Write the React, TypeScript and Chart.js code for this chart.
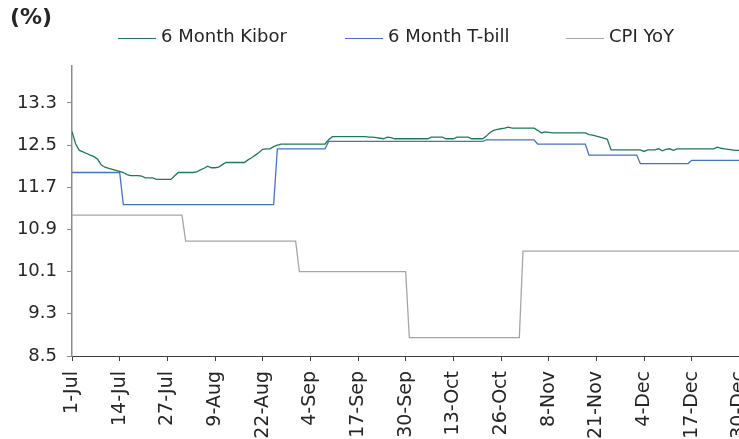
import React, { useEffect, useRef } from "react";
import { Chart, registerables } from "chart.js";

Chart.register(...registerables);

// ---- data ----
const tickLabels = [
  "1-Jul", "14-Jul", "27-Jul", "9-Aug", "22-Aug", "4-Sep", "17-Sep", "30-Sep",
  "13-Oct", "26-Oct", "8-Nov", "21-Nov", "4-Dec", "17-Dec", "30-Dec",
];
const tickEvery = 13; // days between labelled ticks
const yTicks = [8.5, 9.3, 10.1, 10.9, 11.7, 12.5, 13.3];
const yMin = 8.5;
const yMax = 14.0;

const seriesNames = ["6 Month Kibor", "6 Month T-bill", "CPI YoY"];
const seriesColors = ["#1E7B55", "#4472C4", "#A6A6A6"];

// daily values, 1-Jul .. 31-Dec
const kibor = [
  12.76, 12.52, 12.40, 12.37, 12.34, 12.31, 12.28, 12.23, 12.12, 12.08,
  12.06, 12.04, 12.02, 12.00, 11.98, 11.94, 11.92, 11.92, 11.92, 11.91,
  11.88, 11.88, 11.88, 11.85, 11.85, 11.85, 11.85, 11.85, 11.92, 11.98,
  11.98, 11.98, 11.98, 11.98, 11.99, 12.03, 12.06, 12.10, 12.07, 12.07,
  12.08, 12.13, 12.17, 12.17, 12.17, 12.17, 12.17, 12.17, 12.22, 12.26,
  12.31, 12.36, 12.42, 12.43, 12.43, 12.47, 12.50, 12.52, 12.52, 12.52,
  12.52, 12.52, 12.52, 12.52, 12.52, 12.52, 12.52, 12.52, 12.52, 12.52,
  12.60, 12.66, 12.66, 12.66, 12.66, 12.66, 12.66, 12.66, 12.66, 12.66,
  12.66, 12.65, 12.65, 12.64, 12.63, 12.62, 12.65, 12.64, 12.62, 12.62,
  12.62, 12.62, 12.62, 12.62, 12.62, 12.62, 12.62, 12.62, 12.65, 12.65,
  12.65, 12.65, 12.62, 12.62, 12.62, 12.65, 12.65, 12.65, 12.65, 12.62,
  12.62, 12.62, 12.62, 12.67, 12.74, 12.78, 12.80, 12.81, 12.82, 12.84,
  12.82, 12.82, 12.82, 12.82, 12.82, 12.82, 12.82, 12.78, 12.73, 12.75,
  12.74, 12.73, 12.73, 12.73, 12.73, 12.73, 12.73, 12.73, 12.73, 12.73,
  12.73, 12.70, 12.69, 12.67, 12.65, 12.63, 12.61, 12.41, 12.41, 12.41,
  12.41, 12.41, 12.41, 12.41, 12.41, 12.41, 12.38, 12.41, 12.41, 12.41,
  12.43, 12.39, 12.42, 12.43, 12.40, 12.43, 12.43, 12.43, 12.43, 12.43,
  12.43, 12.43, 12.43, 12.43, 12.43, 12.43, 12.46, 12.44, 12.43, 12.42,
  12.41, 12.40, 12.40, 12.40,
];

const tbill = [
  11.98, 11.98, 11.98, 11.98, 11.98, 11.98, 11.98, 11.98, 11.98, 11.98,
  11.98, 11.98, 11.98, 11.98, 11.37, 11.37, 11.37, 11.37, 11.37, 11.37,
  11.37, 11.37, 11.37, 11.37, 11.37, 11.37, 11.37, 11.37, 11.37, 11.37,
  11.37, 11.37, 11.37, 11.37, 11.37, 11.37, 11.37, 11.37, 11.37, 11.37,
  11.37, 11.37, 11.37, 11.37, 11.37, 11.37, 11.37, 11.37, 11.37, 11.37,
  11.37, 11.37, 11.37, 11.37, 11.37, 11.37, 12.43, 12.43, 12.43, 12.43,
  12.43, 12.43, 12.43, 12.43, 12.43, 12.43, 12.43, 12.43, 12.43, 12.43,
  12.57, 12.57, 12.57, 12.57, 12.57, 12.57, 12.57, 12.57, 12.57, 12.57,
  12.57, 12.57, 12.57, 12.57, 12.57, 12.57, 12.57, 12.57, 12.57, 12.57,
  12.57, 12.57, 12.57, 12.57, 12.57, 12.57, 12.57, 12.57, 12.57, 12.57,
  12.57, 12.57, 12.57, 12.57, 12.57, 12.57, 12.57, 12.57, 12.57, 12.57,
  12.57, 12.57, 12.57, 12.60, 12.60, 12.60, 12.60, 12.60, 12.60, 12.60,
  12.60, 12.60, 12.60, 12.60, 12.60, 12.60, 12.60, 12.52, 12.52, 12.52,
  12.52, 12.52, 12.52, 12.52, 12.52, 12.52, 12.52, 12.52, 12.52, 12.52,
  12.52, 12.31, 12.31, 12.31, 12.31, 12.31, 12.31, 12.31, 12.31, 12.31,
  12.31, 12.31, 12.31, 12.31, 12.31, 12.15, 12.15, 12.15, 12.15, 12.15,
  12.15, 12.15, 12.15, 12.15, 12.15, 12.15, 12.15, 12.15, 12.15, 12.21,
  12.21, 12.21, 12.21, 12.21, 12.21, 12.21, 12.21, 12.21, 12.21, 12.21,
  12.21, 12.21, 12.21, 12.21,
];

const cpi = [
  11.17, 11.17, 11.17, 11.17, 11.17, 11.17, 11.17, 11.17, 11.17, 11.17,
  11.17, 11.17, 11.17, 11.17, 11.17, 11.17, 11.17, 11.17, 11.17, 11.17,
  11.17, 11.17, 11.17, 11.17, 11.17, 11.17, 11.17, 11.17, 11.17, 11.17,
  11.17, 10.68, 10.68, 10.68, 10.68, 10.68, 10.68, 10.68, 10.68, 10.68,
  10.68, 10.68, 10.68, 10.68, 10.68, 10.68, 10.68, 10.68, 10.68, 10.68,
  10.68, 10.68, 10.68, 10.68, 10.68, 10.68, 10.68, 10.68, 10.68, 10.68,
  10.68, 10.68, 10.10, 10.10, 10.10, 10.10, 10.10, 10.10, 10.10, 10.10,
  10.10, 10.10, 10.10, 10.10, 10.10, 10.10, 10.10, 10.10, 10.10, 10.10,
  10.10, 10.10, 10.10, 10.10, 10.10, 10.10, 10.10, 10.10, 10.10, 10.10,
  10.10, 10.10, 8.85, 8.85, 8.85, 8.85, 8.85, 8.85, 8.85, 8.85,
  8.85, 8.85, 8.85, 8.85, 8.85, 8.85, 8.85, 8.85, 8.85, 8.85,
  8.85, 8.85, 8.85, 8.85, 8.85, 8.85, 8.85, 8.85, 8.85, 8.85,
  8.85, 8.85, 8.85, 10.49, 10.49, 10.49, 10.49, 10.49, 10.49, 10.49,
  10.49, 10.49, 10.49, 10.49, 10.49, 10.49, 10.49, 10.49, 10.49, 10.49,
  10.49, 10.49, 10.49, 10.49, 10.49, 10.49, 10.49, 10.49, 10.49, 10.49,
  10.49, 10.49, 10.49, 10.49, 10.49, 10.49, 10.49, 10.49, 10.49, 10.49,
  10.49, 10.49, 10.49, 10.49, 10.49, 10.49, 10.49, 10.49, 10.49, 10.49,
  10.49, 10.49, 10.49, 10.49, 10.49, 10.49, 10.49, 10.49, 10.49, 10.49,
  10.49, 10.49, 10.49, 10.49,
];

const allSeries = [kibor, tbill, cpi];

const FONT = "'DejaVu Sans', Verdana, sans-serif";
const TEXT = "#262626";
const legendLeft = [118, 345, 566];

export default function App() {
  const ref = useRef<HTMLCanvasElement | null>(null);

  useEffect(() => {
    if (!ref.current) return;
    const chart = new Chart(ref.current, {
      type: "line",
      data: {
        datasets: allSeries.map((arr, k) => ({
          label: seriesNames[k],
          data: arr.map((y, i) => ({ x: i, y })),
          borderColor: seriesColors[k],
          backgroundColor: seriesColors[k],
          borderWidth: 1.3,
          pointRadius: 0,
          tension: 0,
          fill: false,
        })),
      },
      options: {
        responsive: false,
        animation: false,
        devicePixelRatio: 1,
        layout: { padding: { top: 66, left: 17, right: 57, bottom: 0 } },
        plugins: {
          legend: { display: false },
          tooltip: { enabled: false },
          title: { display: false },
        },
        scales: {
          x: {
            type: "linear",
            min: 0,
            max: kibor.length - 1,
            afterBuildTicks: (s: any) => {
              s.ticks = tickLabels.map((_, i) => ({ value: i * tickEvery }));
            },
            afterFit: (s: any) => {
              s.height = 83;
            },
            ticks: {
              callback: (_v: any, i: number) => tickLabels[i],
              autoSkip: false,
              minRotation: 90,
              maxRotation: 90,
              padding: 10,
              color: TEXT,
              font: { family: FONT, size: 19 },
            },
            grid: { drawOnChartArea: false, tickLength: 5, color: "#404040" },
            border: { color: "#404040", width: 1 },
          },
          y: {
            type: "linear",
            min: yMin,
            max: yMax,
            afterBuildTicks: (s: any) => {
              s.ticks = yTicks.map((v) => ({ value: v }));
            },
            afterFit: (s: any) => {
              s.width = 55;
            },
            ticks: {
              callback: (v: any) => Number(v).toFixed(1),
              padding: 10,
              color: TEXT,
              font: { family: FONT, size: 18 },
            },
            grid: { drawOnChartArea: false, tickLength: 5, color: "#8c8c8c" },
            border: { color: "#8c8c8c", width: 1.5 },
          },
        },
      },
    });
    return () => chart.destroy();
  }, []);

  return (
    <div
      style={{
        position: "fixed",
        left: 0,
        top: 0,
        width: 739,
        height: 439,
        overflow: "hidden",
        background: "#fff",
        fontFamily: FONT,
      }}
    >
      <canvas
        ref={ref}
        width={800}
        height={439}
        style={{ position: "absolute", left: 0, top: 0, width: 800, height: 439 }}
      />
      <div
        style={{
          position: "absolute",
          left: 10,
          top: 4,
          fontSize: 22,
          fontWeight: "bold",
          color: TEXT,
          lineHeight: "normal",
          whiteSpace: "nowrap",
        }}
      >
        (%)
      </div>
      {seriesNames.map((name, k) => (
        <div
          key={name}
          style={{
            position: "absolute",
            left: legendLeft[k],
            top: 25,
            display: "flex",
            alignItems: "center",
            whiteSpace: "nowrap",
            fontSize: 18,
            color: TEXT,
            lineHeight: "normal",
          }}
        >
          <span
            style={{
              display: "inline-block",
              width: 38,
              height: 0,
              borderTop: `1.6px solid ${seriesColors[k]}`,
              marginRight: 5,
              marginTop: 6,
            }}
          />
          <span>{name}</span>
        </div>
      ))}
    </div>
  );
}
